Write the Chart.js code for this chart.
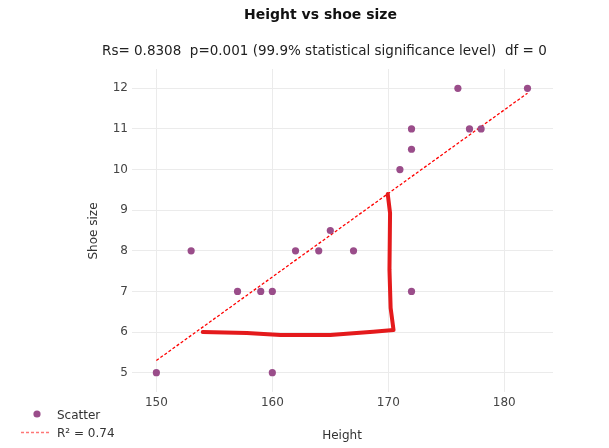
<!DOCTYPE html>
<html><head><meta charset="utf-8">
<script src="https://cdn.jsdelivr.net/npm/chart.js@4"></script>
<style>html,body{margin:0;padding:0;background:#fff}#wrap{width:609px;height:448px;position:relative}</style>
</head><body><div id="wrap"><canvas id="c" width="609" height="448"></canvas></div>
<script>
const heights = [150,153,157,159,160,160,162,164,165,167,171,172,172,172,176,177,178,182];
const shoeSizes = [5,8,7,7,7,5,8,8,8.5,8,10,11,10.5,7,12,11,11,12];
const trendX = [150,182];
const trendY = [5.3,11.88];
const markX = [154, 157.8, 160.7, 163, 165, 166.4, 168.7, 170.45, 170.2, 170.1, 170.15, 169.95];
const markY = [6.0, 5.98, 5.93, 5.93, 5.93, 5.96, 6.01, 6.05, 6.59, 7.53, 8.93, 9.4];
const xTicks = [150,160,170,180];
const yTicks = [5,6,7,8,9,10,11,12];
const titleText = 'Height vs shoe size';
const subtitleText = 'Rs= 0.8308  p=0.001 (99.9% statistical significance level)  df = 0';
const xTitle = 'Height';
const yTitle = 'Shoe size';
const legendLabels = ['Scatter', 'R\u00b2 = 0.74'];

const FAM = '"DejaVu Sans", Verdana, sans-serif';
const purple = '#9a4d8a';

const textPlugin = {
  id: 'texts',
  afterDraw(chart) {
    const ctx = chart.ctx;
    ctx.save();
    ctx.textBaseline = 'alphabetic';
    ctx.fillStyle = '#111';
    ctx.font = 'bold 14px ' + FAM;
    ctx.textAlign = 'left';
    ctx.fillText(titleText, 244, 19);
    ctx.fillStyle = '#222';
    ctx.font = '13.5px ' + FAM;
    ctx.fillText(subtitleText, 102, 55);
    ctx.fillStyle = '#333';
    ctx.font = '12px ' + FAM;
    ctx.textAlign = 'center';
    ctx.fillText(xTitle, 342, 438.5);
    ctx.save();
    ctx.translate(97, 231);
    ctx.rotate(-Math.PI/2);
    ctx.fillText(yTitle, 0, 0);
    ctx.restore();
    // legend
    ctx.textAlign = 'left';
    ctx.fillStyle = '#333';
    ctx.fillText(legendLabels[0], 57, 418.5);
    ctx.fillText(legendLabels[1], 57, 437);
    ctx.beginPath();
    ctx.fillStyle = purple;
    ctx.arc(37, 414, 3.6, 0, Math.PI*2);
    ctx.fill();
    ctx.strokeStyle = '#f77';
    ctx.lineWidth = 1.3;
    ctx.setLineDash([3,2]);
    ctx.beginPath();
    ctx.moveTo(21, 432.5);
    ctx.lineTo(49, 432.5);
    ctx.stroke();
    ctx.restore();
  }
};

new Chart(document.getElementById('c'), {
  type: 'scatter',
  data: {
    datasets: [
      {label: 'mark', type: 'line', data: markX.map((x,i)=>({x, y: markY[i]})),
       borderColor: '#e41a1c', borderWidth: 4, pointRadius: 0, fill: false, tension: 0,
       borderCapStyle: 'round', borderJoinStyle: 'round', order: 0},
      {label: legendLabels[0], data: heights.map((x,i)=>({x, y: shoeSizes[i]})),
       backgroundColor: purple, borderWidth: 0, pointRadius: 3.6, order: 1},
      {label: legendLabels[1], type: 'line', data: trendX.map((x,i)=>({x, y: trendY[i]})),
       borderColor: 'red', borderDash: [3,2], borderWidth: 1.3, pointRadius: 0, fill: false, order: 2}
    ]
  },
  options: {
    animation: false, responsive: false, devicePixelRatio: 1,
    layout: {padding: {left: 0, right: 56, top: 69, bottom: 0}},
    plugins: {legend: {display: false}, tooltip: {enabled: false}, title: {display: false}},
    scales: {
      x: {type: 'linear', min: 147.9, max: 184.2,
          afterBuildTicks: s => { s.ticks = xTicks.map(v => ({value: v})); },
          afterFit: s => { s.height = 56; },
          grid: {color: '#ebebeb', drawTicks: false}, border: {display: false},
          ticks: {padding: 4, font: {family: FAM, size: 12}, color: '#444'}},
      y: {type: 'linear', min: 4.525, max: 12.475,
          afterBuildTicks: s => { s.ticks = yTicks.map(v => ({value: v})); },
          afterFit: s => { s.width = 132; },
          grid: {color: '#ebebeb', drawTicks: false}, border: {display: false},
          ticks: {padding: 4, font: {family: FAM, size: 12}, color: '#444'}}
    }
  },
  plugins: [textPlugin]
});
</script></body></html>
